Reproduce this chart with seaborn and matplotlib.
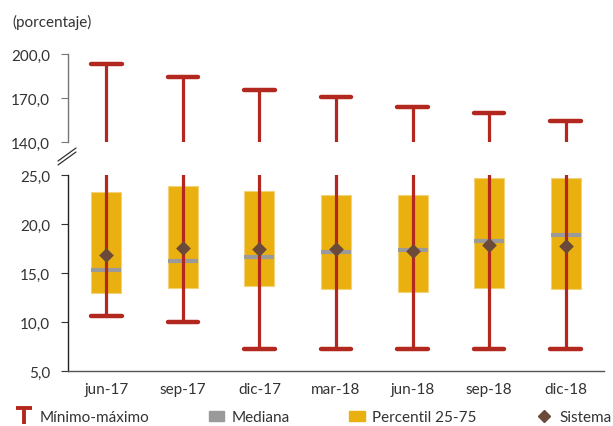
import matplotlib.pyplot as plt
import seaborn as sns
from matplotlib.lines import Line2D
from matplotlib.patches import Patch
from matplotlib.path import Path
from matplotlib.ticker import FuncFormatter

# values
periodos = ['jun-17', 'sep-17', 'dic-17', 'mar-18', 'jun-18', 'sep-18', 'dic-18']
maximo = [193.5, 184.0, 175.7, 170.5, 163.9, 159.8, 154.5]
minimo = [10.6, 10.0, 7.2, 7.2, 7.2, 7.2, 7.2]
perc_25 = [13.0, 13.5, 13.7, 13.4, 13.1, 13.5, 13.4]
perc_75 = [23.3, 23.9, 23.4, 23.0, 23.0, 24.7, 24.7]
mediana = [15.3, 16.2, 16.6, 17.1, 17.3, 18.3, 18.9]
sistema = [16.8, 17.6, 17.5, 17.5, 17.2, 17.9, 17.8]

rojo = '#B3281E'
amarillo = '#EAB00F'
gris = '#9A9A9A'
marron = '#6B4A3A'

sns.set_theme(style='white')
plt.rcParams['font.family'] = ['Lato', 'DejaVu Sans']
plt.rcParams['text.color'] = '#333333'
plt.rcParams['xtick.color'] = '#333333'
plt.rcParams['ytick.color'] = '#333333'

fig = plt.figure(figsize=(6.13, 4.27), dpi=100)
ax_hi = fig.add_axes([68 / 613, 1 - 143 / 427, 536 / 613, 88 / 427])
ax_lo = fig.add_axes([68 / 613, 1 - 372 / 427, 536 / 613, 196 / 427])

pos = list(range(len(periodos)))
fmt = FuncFormatter(lambda v, p: f"{v:.1f}".replace('.', ','))

# lower panel: boxes, medians, stems, min caps, diamonds
ax_lo.bar(pos, [t - b for t, b in zip(perc_75, perc_25)], bottom=perc_25, width=0.39,
          color=amarillo, edgecolor='#F3D27A', linewidth=0.8, zorder=2)
ax_lo.hlines(mediana, [p - 0.195 for p in pos], [p + 0.195 for p in pos],
             color=gris, lw=3, zorder=3)
for ax in (ax_hi, ax_lo):
    st = ax.vlines(pos, minimo, maximo, color=rojo, lw=2.3, zorder=4)
    st.set_capstyle('round')
caps_lo = ax_lo.hlines(minimo, [p - 0.2 for p in pos], [p + 0.2 for p in pos], color=rojo, lw=3.2, zorder=4)
caps_lo.set_capstyle('round')
caps_hi = ax_hi.hlines(maximo, [p - 0.2 for p in pos], [p + 0.2 for p in pos], color=rojo, lw=3.2, zorder=4)
caps_hi.set_capstyle('round')

sns.stripplot(x=periodos, y=sistema, ax=ax_lo, marker='D', size=7.5, color=marron,
              jitter=False, linewidth=0, zorder=6)

ax_lo.set_xlim(-0.5, len(periodos) - 0.5)
ax_hi.set_xlim(-0.5, len(periodos) - 0.5)
ax_lo.set_ylim(5, 25)
ax_hi.set_ylim(140, 200)

ax_lo.set_yticks([5, 10, 15, 20, 25])
ax_hi.set_yticks([140, 170, 200])
ax_lo.yaxis.set_major_formatter(fmt)
ax_hi.yaxis.set_major_formatter(fmt)

ax_lo.set_xticks(pos)
ax_lo.set_xticklabels(periodos)
ax_lo.set_xticks([p - 0.5 for p in pos] + [len(pos) - 0.5], minor=True)
ax_lo.tick_params(axis='x', which='major', length=0, pad=8, labelsize=11)
ax_lo.tick_params(axis='x', which='minor', direction='in', length=5, width=0.8, color='#555555')
ax_lo.tick_params(axis='y', length=5, width=0.8, color='#333333', labelsize=11, pad=8, left=True)
ax_hi.tick_params(axis='y', length=5, width=0.8, color='#777777', labelsize=11, pad=8, left=True)
ax_hi.set_xticks([])
ax_lo.set_xlabel('')
ax_lo.set_ylabel('')

for s in ['top', 'right']:
    ax_lo.spines[s].set_visible(False)
for s in ['top', 'right', 'bottom']:
    ax_hi.spines[s].set_visible(False)
ax_lo.spines['left'].set_color('#222222')
ax_lo.spines['bottom'].set_color('#555555')
ax_hi.spines['left'].set_color('#777777')
for s in ['left', 'bottom']:
    ax_lo.spines[s].set_linewidth(1.0)
ax_hi.spines['left'].set_linewidth(1.0)

# axis break marks
for dy in (0, 4):
    fig.add_artist(Line2D([58 / 613, 76 / 613], [1 - (162 + dy) / 427, 1 - (149 + dy) / 427],
                          transform=fig.transFigure, color='#333333', lw=0.9))

fig.text(12 / 613, 1 - 22 / 427, '(porcentaje)', fontsize=11, va='center', ha='left')

t_path = Path([(-1, 1), (1, 1), (0, 1), (0, -1)],
              [Path.MOVETO, Path.LINETO, Path.MOVETO, Path.LINETO])
handles = [
    Line2D([], [], marker=t_path, linestyle='none', markeredgecolor=rojo, markerfacecolor='none',
           markersize=11, markeredgewidth=2.8),
    Patch(color=gris),
    Patch(color=amarillo),
    Line2D([], [], marker='D', linestyle='none', color=marron, markersize=6),
]
labels = ['Mínimo-máximo', 'Mediana', 'Percentil 25-75', 'Sistema']
fig.legend(handles, labels, loc='center', bbox_to_anchor=(0.512, 0.02), ncol=4, frameon=False,
           columnspacing=3.9, handlelength=1.0, handletextpad=0.5, fontsize=11)

fig.savefig('out.png', dpi=100)
